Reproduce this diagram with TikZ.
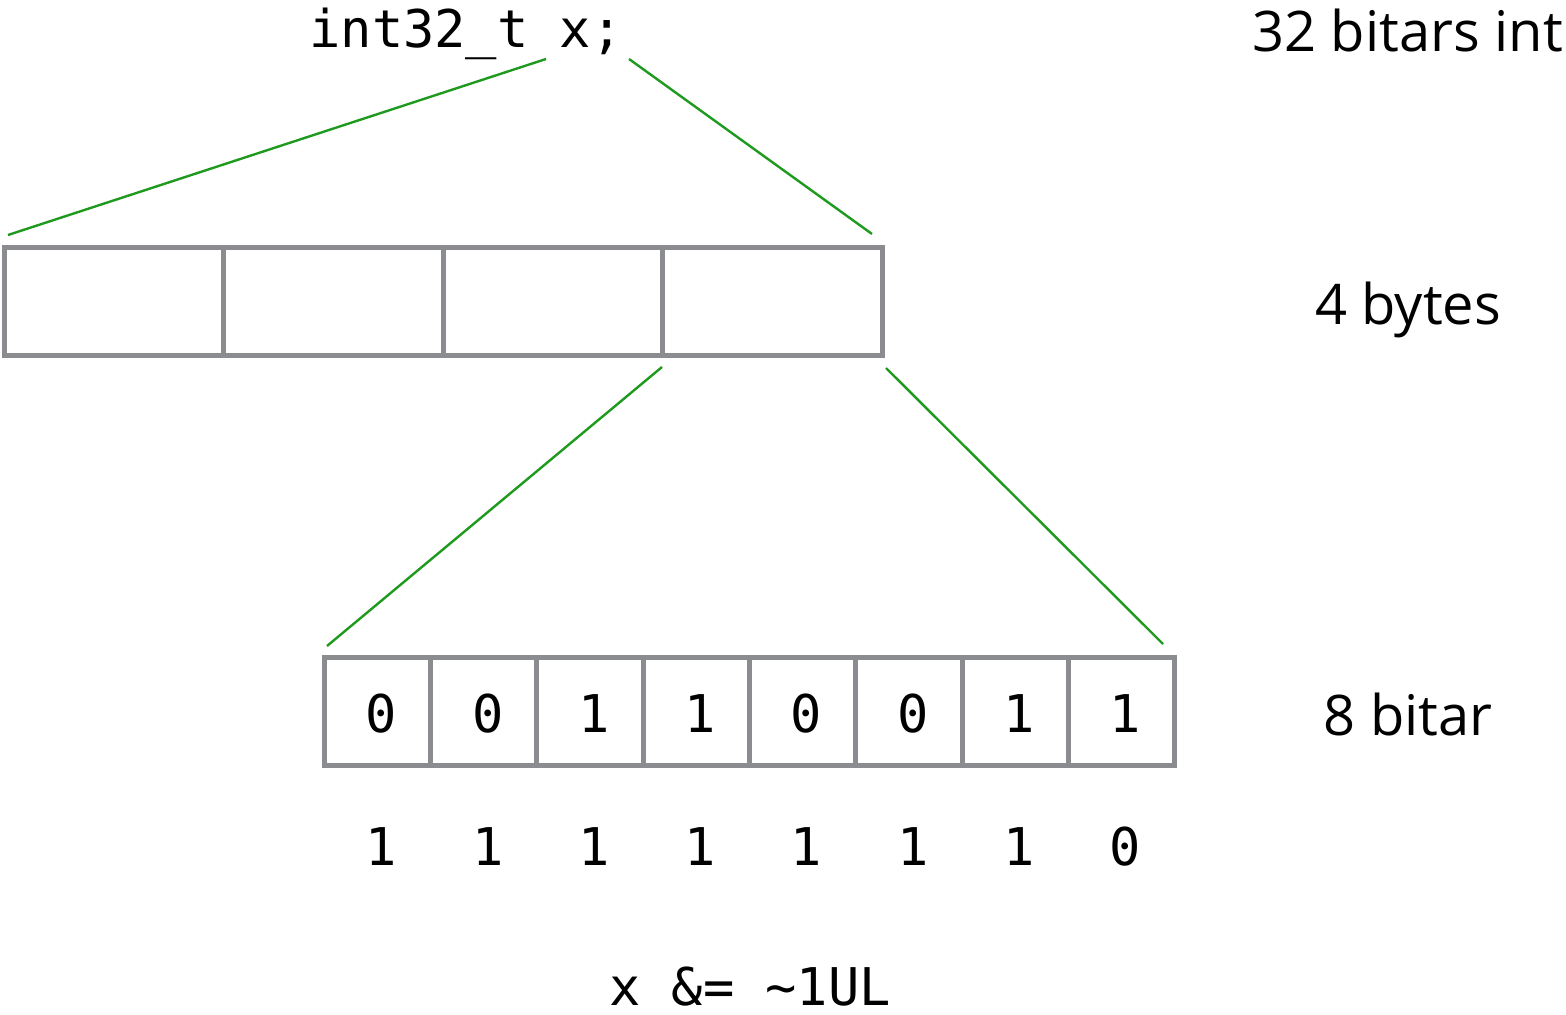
\documentclass[tikz,border=0pt]{standalone}
\usepackage{fontspec}
\setmainfont{Open Sans}
\newfontfamily\codefont{DejaVu Sans Mono}
\usetikzlibrary{positioning}
\definecolor{cellgray}{HTML}{8A8C90}
\definecolor{zoomgreen}{HTML}{1F9A1F}

\begin{document}
\begin{tikzpicture}[
    x=0.5pt, y=-0.5pt,
    node distance=0pt,
    bytecell/.style={draw=cellgray, line width=2.5pt, outer sep=0pt, inner sep=0pt, minimum width=109.7pt, minimum height=54pt},
    bitcell/.style={draw=cellgray, line width=2.5pt, outer sep=0pt, inner sep=0pt, minimum width=53.15pt, minimum height=54pt},
    digit/.style={font=\codefont\fontsize{26}{30}\selectfont, inner sep=0pt, text height=19pt, text depth=0pt},
    code/.style={font=\codefont\fontsize{26}{30}\selectfont, inner sep=0pt, anchor=base},
    caption/.style={font=\fontsize{28}{32}\selectfont, inner sep=0pt, anchor=base},
    zoom/.style={draw=zoomgreen, line width=1.2pt}
  ]
    \useasboundingbox (0,0) rectangle (1566,1015);

    % declaration and size labels
    \node[code] (decl) at (466,48) {int32\_t x;};
    \node[caption, anchor=base west] (lint) at (1252,52) {32 bitars int};
    \node[caption] (lbytes) at (1408,325) {4 bytes};
    \node[caption] (lbits) at (1408,735) {8 bitar};

    % the four bytes
    \node[bytecell] (by1) at (114.2,301.5) {};
    \node[bytecell, right=of by1] (by2) {};
    \node[bytecell, right=of by2] (by3) {};
    \node[bytecell, right=of by3] (by4) {};

    % the eight bits of the last byte
    \node[bitcell] (bt1) at (377.4,711.5) {};
    \node[bitcell, right=of bt1] (bt2) {};
    \node[bitcell, right=of bt2] (bt3) {};
    \node[bitcell, right=of bt3] (bt4) {};
    \node[bitcell, right=of bt4] (bt5) {};
    \node[bitcell, right=of bt5] (bt6) {};
    \node[bitcell, right=of bt6] (bt7) {};
    \node[bitcell, right=of bt7] (bt8) {};

    \node[digit] (v1) at ([xshift=2pt,yshift=-1.2pt]bt1.center) {0};
    \node[digit] (v2) at ([xshift=2pt,yshift=-1.2pt]bt2.center) {0};
    \node[digit] (v3) at ([xshift=2pt,yshift=-1.2pt]bt3.center) {1};
    \node[digit] (v4) at ([xshift=2pt,yshift=-1.2pt]bt4.center) {1};
    \node[digit] (v5) at ([xshift=2pt,yshift=-1.2pt]bt5.center) {0};
    \node[digit] (v6) at ([xshift=2pt,yshift=-1.2pt]bt6.center) {0};
    \node[digit] (v7) at ([xshift=2pt,yshift=-1.2pt]bt7.center) {1};
    \node[digit] (v8) at ([xshift=2pt,yshift=-1.2pt]bt8.center) {1};

    % the mask
    \node[digit, below=47pt of v1] (m1) {1};
    \node[digit, below=47pt of v2] (m2) {1};
    \node[digit, below=47pt of v3] (m3) {1};
    \node[digit, below=47pt of v4] (m4) {1};
    \node[digit, below=47pt of v5] (m5) {1};
    \node[digit, below=47pt of v6] (m6) {1};
    \node[digit, below=47pt of v7] (m7) {1};
    \node[digit, below=47pt of v8] (m8) {0};

    \node[code] (expr) at (750,1005) {x \&= \textasciitilde 1UL};

    % zoom lines
    \coordinate (declL) at (546,59);
    \coordinate (declR) at (629,59);
    \coordinate (bytesL) at (8,235);
    \coordinate (bytesR) at (872,234);
    \coordinate (lastL) at (662,367);
    \coordinate (lastR) at (886,368);
    \coordinate (bitsL) at (327,646);
    \coordinate (bitsR) at (1163,644);

    \draw[zoom] (declL) -- (bytesL);
    \draw[zoom] (declR) -- (bytesR);
    \draw[zoom] (lastL) -- (bitsL);
    \draw[zoom] (lastR) -- (bitsR);
  \end{tikzpicture}
\end{document}
